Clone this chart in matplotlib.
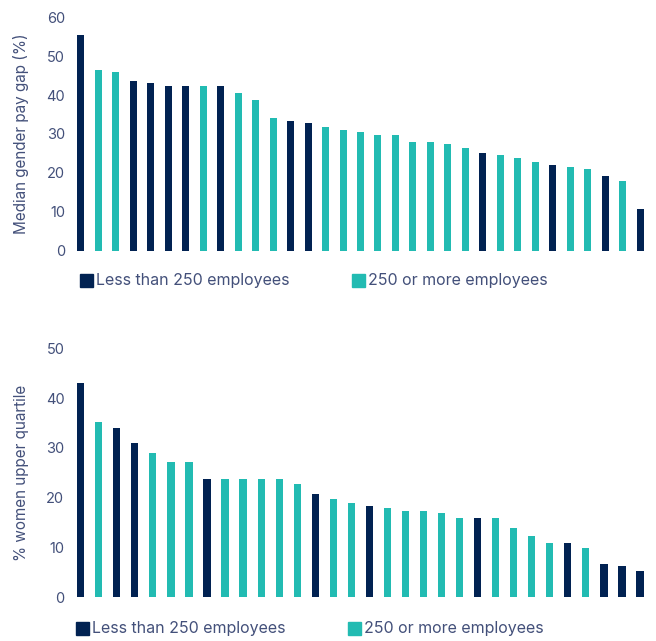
import numpy as np
import matplotlib.pyplot as plt
from matplotlib.patches import Rectangle

plt.rcParams['font.family'] = ['Inter', 'DejaVu Sans']

navy = '#012252'
teal = '#22bbb2'
txt = '#43507a'

# median gender pay gap (%), N = less than 250 employees, T = 250 or more
gap = [55.4, 46.4, 45.9, 43.6, 43.0, 42.3, 42.3, 42.3, 42.3, 40.5, 38.8,
       34.0, 33.4, 32.8, 31.7, 31.0, 30.4, 29.8, 29.8, 28.0, 28.0, 27.4,
       26.3, 25.0, 24.5, 23.9, 22.7, 22.1, 21.5, 20.9, 19.1, 17.9, 10.8]
gap_size = list('NTTNNNNTNTTTNNTTTTTTTTTNTTTNTTNTN')

# % women in upper quartile
women = [43.1, 35.3, 33.9, 30.9, 29.0, 27.1, 27.1, 23.7, 23.7, 23.7, 23.7,
         23.7, 22.7, 20.7, 19.7, 18.9, 18.3, 17.9, 17.3, 17.3, 16.9, 15.9,
         15.9, 15.9, 13.9, 12.4, 11.0, 11.0, 10.0, 6.7, 6.2, 5.3]
women_size = list('NTNNTTTNTTTTTNTTNTTTTTNTTTTNTNNN')

labels = ['Less than 250 employees', '250 or more employees']

W, H = 656, 641
fig = plt.figure(figsize=(W / 100, H / 100), dpi=100)


def bars(ax, vals, sizes, ymax, ylabel):
    x = np.arange(len(vals))
    cols = [navy if s == 'N' else teal for s in sizes]
    ax.bar(x, vals, width=0.4, color=cols)
    ax.set_xlim(-0.6, len(vals) - 0.4)
    ax.set_ylim(0, ymax)
    ax.set_yticks(np.arange(0, ymax + 1, 10))
    ax.set_xticks([])
    for s in ax.spines.values():
        s.set_visible(False)
    ax.tick_params(axis='y', length=0, pad=4, labelsize=10.5, labelcolor=txt)
    ax.set_ylabel(ylabel, fontsize=11, color=txt)
    ax.yaxis.set_label_coords(-0.071, 0.5)


def legend(x0, x1, ytop):
    # squares + text in pixel coords
    for xs, lab, c in [(x0, labels[0], navy), (x1, labels[1], teal)]:
        fig.add_artist(Rectangle((xs / W, 1 - (ytop + 13) / H), 13 / W, 13 / H,
                                 color=c, transform=fig.transFigure))
        fig.text((xs + 16) / W, 1 - (ytop + 6.5) / H, lab, fontsize=11.5,
                 color=txt, va='center', ha='left')


ax1 = fig.add_axes([70.5 / W, 1 - 250.7 / H, 580 / W, 233.4 / H])
bars(ax1, gap, gap_size, 60, 'Median gender pay gap (%)')

ax2 = fig.add_axes([69.9 / W, 1 - 597.3 / H, 580.9 / W, 249 / H])
bars(ax2, women, women_size, 50, '% women upper quartile')

legend(80, 352, 274)
legend(76, 348, 622)

fig.savefig('out.png', dpi=100)
